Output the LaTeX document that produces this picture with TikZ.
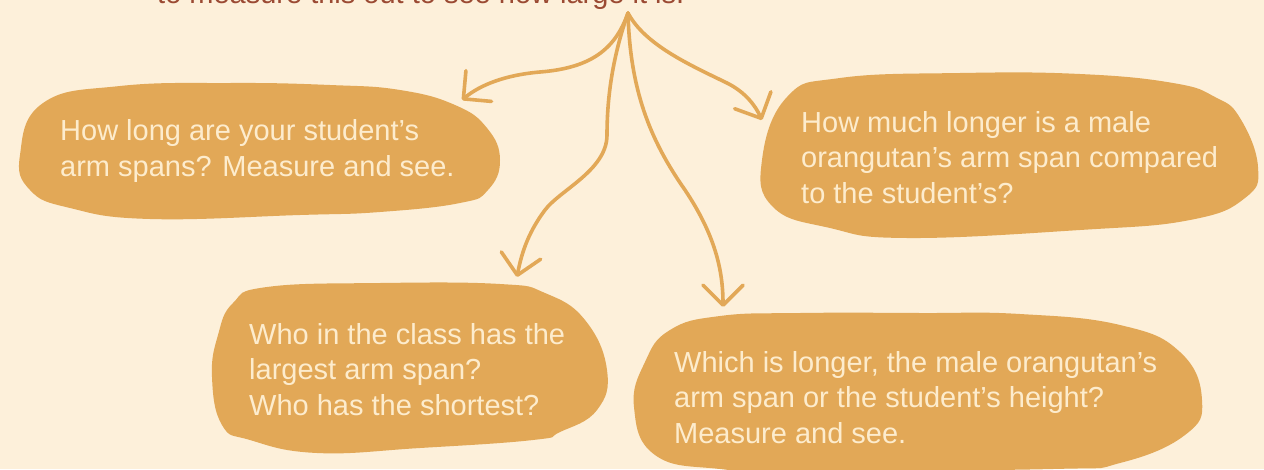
\documentclass[tikz,border=0pt]{standalone}
\usepackage{fontspec}
\setmainfont{Liberation Sans}
\usetikzlibrary{arrows.meta}
\definecolor{bg}{RGB}{253,240,218}
\definecolor{blob}{RGB}{226,168,87}
\definecolor{cream}{RGB}{253,236,205}
\definecolor{topbrown}{RGB}{155,74,51}
\begin{document}
\begin{tikzpicture}[x=1pt,y=-1pt,
  blobshape/.style={fill=blob},
  qtext/.style={text=cream,font=\fontsize{29}{35.5}\selectfont,align=left,inner sep=0pt,anchor=base west},
  conn/.style={draw=blob,line width=3.6pt,line cap=round,line join=round,-{Straight Barb[length=20pt,width=40pt,round]}}]
\useasboundingbox (0,0) rectangle (1264,469);
\clip (0,0) rectangle (1264,469);
\fill[bg] (0,0) rectangle (1264,469);
% top (cut off) text
\node[font=\fontsize{29}{35}\selectfont,text=topbrown,anchor=base west,inner sep=0pt] (top) at (157,3) {to measure this out to see how large it is.};
% blobs
\fill[blobshape] plot[smooth cycle,tension=0.75] coordinates {(43,103) (120,86) (230,83) (330,85) (400,90) (455,105) (487,128) (500,160) (488,190) (460,203) (380,212) (300,215) (150,219) (70,208) (30,190) (20,155)};
\fill[blobshape] plot[smooth cycle,tension=0.75] coordinates {(787,97) (840,78) (960,73) (1080,74) (1173,83) (1215,97) (1240,118) (1258,167) (1245,198) (1190,220) (1080,230) (907,238) (830,228) (773,207) (762,160)};
\fill[blobshape] plot[smooth cycle,tension=0.75] coordinates {(233,303) (267,287) (380,283) (500,284) (545,293) (585,320) (607,370) (597,410) (560,432) (533,440) (420,448) (317,453) (250,440) (222,425) (212,377) (218,335)};
\fill[blobshape] plot[smooth cycle,tension=0.75] coordinates {(670,330) (720,316) (800,313) (920,313) (1020,314) (1120,325) (1180,352) (1202,400) (1185,435) (1120,463) (1053,469) (800,471) (720,469) (655,455) (634,407) (645,362)};
% texts
\node[qtext] (q1) at (60,176) {How long are your student’s\\arm spans? Measure and see.};
\node[qtext] (q2) at (801,203) {How much longer is a male\\orangutan’s arm span compared\\to the student’s?};
\node[qtext] (q3) at (249,415) {Who in the class has the\\largest arm span?\\Who has the shortest?};
\node[qtext] (q4) at (674,443) {Which is longer, the male orangutan’s\\arm span or the student’s height?\\Measure and see.};
% connectors
\coordinate (O) at (628,13);
\coordinate (T1) at (462,100);
\coordinate (T2) at (762,120);
\coordinate (T3) at (517,277);
\coordinate (T4) at (723,307);
\draw[conn] (O) .. controls (615,50) and (590,68) .. (540,72) .. controls (505,75) and (480,85) .. (T1);
\draw[conn] (O) .. controls (615,50) and (607,90) .. (607,135) .. controls (607,170) and (560,190) .. (545,210) .. controls (530,230) and (522,250) .. (T3);
\draw[conn] (O) .. controls (630,90) and (650,140) .. (685,190) .. controls (715,235) and (723,270) .. (T4);
\draw[conn] (O) .. controls (645,45) and (690,65) .. (727,83) .. controls (745,92) and (755,105) .. (T2);
\end{tikzpicture}
\end{document}
